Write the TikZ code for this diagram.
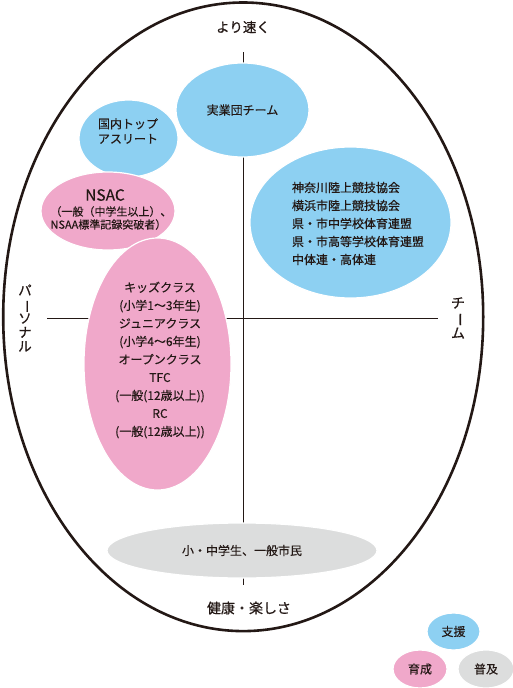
\documentclass[tikz,border=0pt]{standalone}
\usepackage{fontspec}
\setmainfont{Noto Sans CJK JP}[FakeBold=0.25]
\newfontfamily\heavyfont{Noto Sans CJK JP}[FakeBold=0.6]
\usepackage{tikz}
\usetikzlibrary{shapes.geometric}
\definecolor{shien}{RGB}{141,208,242}
\definecolor{ikusei}{RGB}{240,168,202}
\definecolor{fukyu}{RGB}{220,221,221}
\definecolor{rim}{RGB}{35,24,21}

\begin{document}
\begin{tikzpicture}[
  x=1pt, y=-1pt,
  blob/.style={ellipse, draw=white, line width=1.2pt, inner sep=0pt},
  txt/.style={font=\fontsize{12}{18}\selectfont, align=center, inner sep=0pt, text=rim},
  axislabel/.style={font=\heavyfont\fontsize{13.5}{14}\selectfont, align=center, inner sep=0pt, text=rim},
  axis/.style={draw=rim, line width=0.9pt}
]
\useasboundingbox (0,0) rectangle (512,688);
\draw[draw=rim, line width=2.6pt] (243.2,316.8) ellipse [x radius=240, y radius=314.3];

\coordinate (top) at (243,52);
\coordinate (bottom) at (243,585);
\coordinate (left) at (47,318);
\coordinate (right) at (438,318);
\draw[axis] (top) -- (bottom);
\draw[axis] (left) -- (right);

\node[axislabel] (faster) at (243,27) {より速く};
\node[axislabel, font=\heavyfont\fontsize{14}{14}\selectfont] (health) at (249,608) {健康・楽しさ};
\node[axislabel] (personal) at (25,318) {パ\\\rotatebox[origin=c]{-90}{ー}\\ソ\\ナ\\ル};
\node[axislabel, font=\heavyfont\fontsize{14}{14.5}\selectfont] (team) at (458,318) {チ\\\rotatebox[origin=c]{-90}{ー}\\ム};

\node[blob, fill=shien, minimum width=99, minimum height=77] (kokunai) at (128.5,138.5) {};
\node[txt, align=left, font=\fontsize{12}{15}\selectfont] (kokunaitxt) at (128,131) {国内トップ\\アスリート};

\node[blob, fill=shien, minimum width=133, minimum height=94] (jitsugyo) at (242.5,110) {};
\node[txt] (jitsugyotxt) at (jitsugyo.center) {実業団チーム};

\node[blob, fill=shien, minimum width=201, minimum height=151] (kengroup) at (350.5,222.5) {};
\node[txt, align=left, font=\heavyfont\fontsize{12}{18}\selectfont] (kengrouptxt) at (358,223.5) {神奈川陸上競技協会\\横浜市陸上競技協会\\県・市中学校体育連盟\\県・市高等学校体育連盟\\中体連・高体連};

\node[blob, fill=ikusei, minimum width=134, minimum height=78] (nsac) at (108,211) {};
\node[txt, font=\fontsize{15.5}{16}\selectfont] (nsactxt) at (105,195) {NSAC};
\node[txt, align=left, font=\fontsize{11}{13}\selectfont] (nsacsub) at (111,218) {（一般（中学生以上）、\\NSAA標準記録突破者）};

\node[blob, fill=ikusei, minimum width=147, minimum height=252] (kids) at (157.5,364) {};
\node[txt] (kidstxt) at (160,360) {キッズクラス\\(小学1～3年生)\\ジュニアクラス\\(小学4～6年生)\\オープンクラス\\TFC\\(一般(12歳以上))\\RC\\(一般(12歳以上))};

\node[blob, fill=fukyu, minimum width=270, minimum height=55] (shimin) at (242,550.5) {};
\node[txt] (shimintxt) at (shimin.center) {小・中学生、一般市民};

\node[blob, fill=shien, minimum width=53, minimum height=37] (legshien) at (453.5,631.5) {};
\node[txt] (legshientxt) at (legshien.center) {支援};
\node[blob, fill=ikusei, minimum width=54, minimum height=38] (legikusei) at (420,669) {};
\node[txt] (legikuseitxt) at (legikusei.center) {育成};
\node[blob, fill=fukyu, minimum width=56, minimum height=38] (legfukyu) at (486,669) {};
\node[txt] (legfukyutxt) at (legfukyu.center) {普及};
\end{tikzpicture}
\end{document}
